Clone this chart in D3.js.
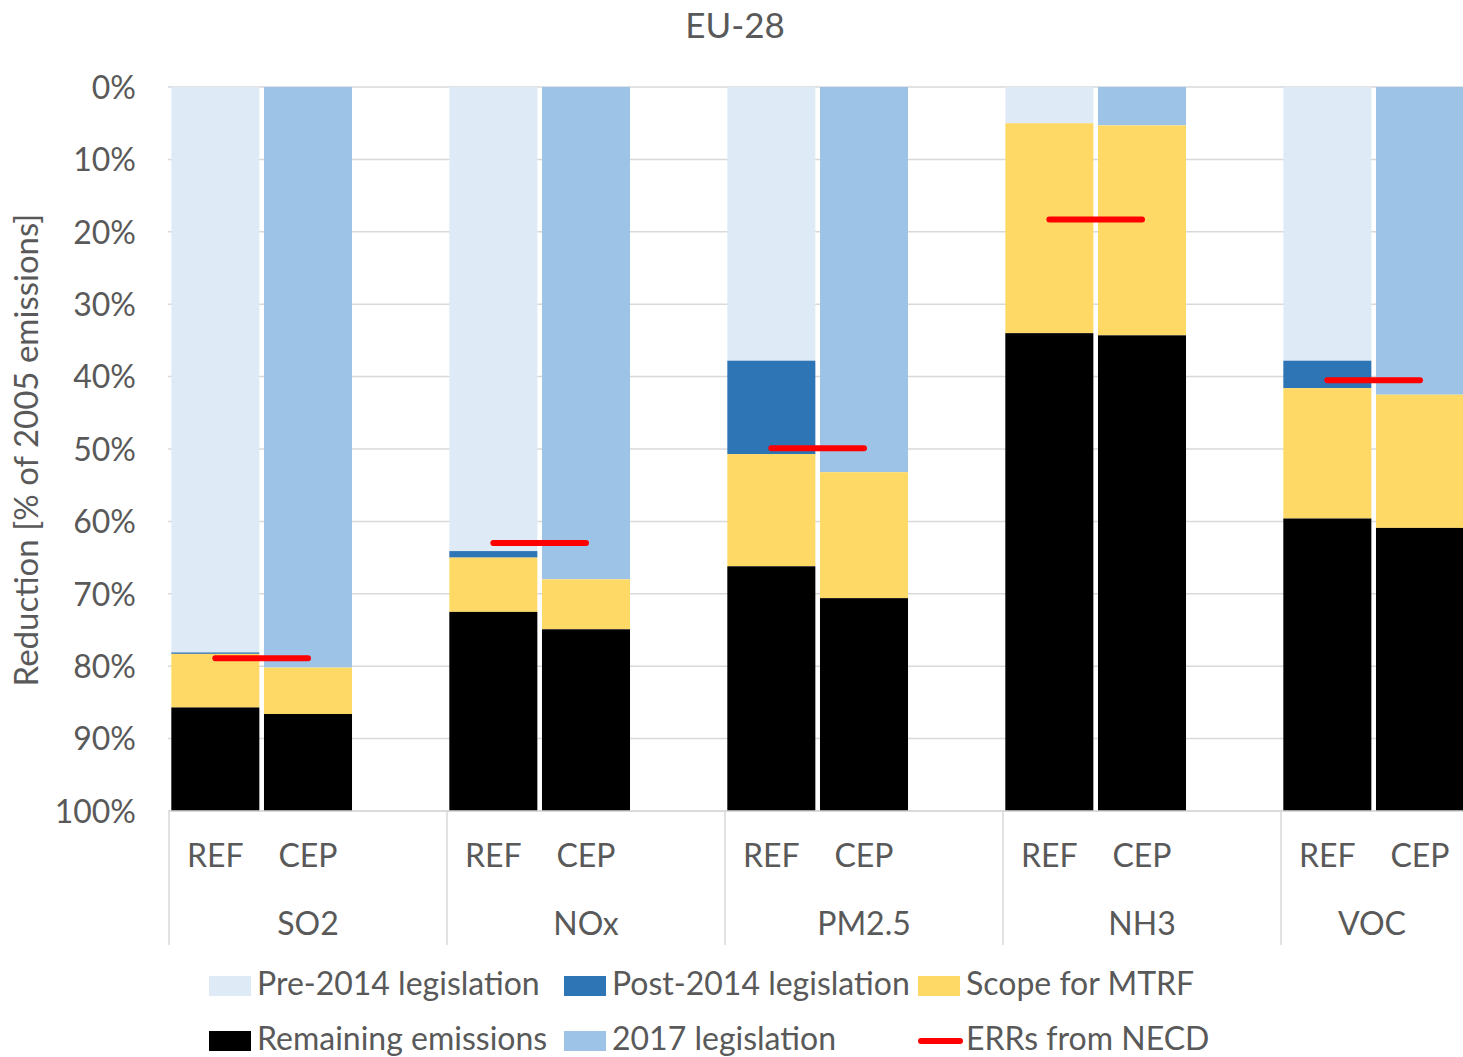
<!DOCTYPE html>
<html>
<head>
<meta charset="utf-8">
<script src="https://cdn.jsdelivr.net/npm/d3@7/dist/d3.min.js"></script>
<style>
  html, body { margin: 0; padding: 0; background: #fff; overflow: hidden; }
  svg { display: block; font-family: Lato, "Open Sans", sans-serif; }
</style>
</head>
<body>
<svg id="chart" width="1463" height="1057"></svg>
<script>
// ---- Data ----
const pollutants = ["SO2", "NOx", "PM2.5", "NH3", "VOC"];
const scenarios = ["REF", "CEP"];
// REF bars (segments, % of 2005 emissions, stacked from the top)
const pre2014Ref   = [78.1, 64.1, 37.8, 5.0, 37.8];
const post2014Ref  = [0.2, 0.9, 12.9, 0.0, 3.8];
const scopeRef     = [7.4, 7.5, 15.5, 29.0, 18.0];
const remainingRef = [14.3, 27.5, 33.8, 66.0, 40.4];
// CEP bars
const leg2017Cep   = [80.2, 68.0, 53.2, 5.3, 42.5];
const scopeCep     = [6.4, 6.9, 17.4, 29.0, 18.4];
const remainingCep = [13.4, 25.1, 29.4, 65.7, 39.1];
// Emission reduction requirements from NECD
const errNecd      = [78.9, 63.0, 49.9, 18.3, 40.5];
const yTicks = [0, 10, 20, 30, 40, 50, 60, 70, 80, 90, 100];

const seriesKeys = ["pre2014", "post2014", "leg2017", "scope", "remaining"];
const seriesNames = {
  pre2014: "Pre-2014 legislation", post2014: "Post-2014 legislation",
  scope: "Scope for MTRF", remaining: "Remaining emissions", leg2017: "2017 legislation"
};
const colors = {
  pre2014: "#DEEBF7", post2014: "#2E75B6", leg2017: "#9DC3E6",
  scope: "#FFD966", remaining: "#000000"
};

// rows: one per bar
const rows = [];
pollutants.forEach((p, i) => {
  rows.push({ slot: p + "|REF", pollutant: p, scenario: "REF",
    pre2014: pre2014Ref[i], post2014: post2014Ref[i], leg2017: 0,
    scope: scopeRef[i], remaining: remainingRef[i] });
  rows.push({ slot: p + "|CEP", pollutant: p, scenario: "CEP",
    pre2014: 0, post2014: 0, leg2017: leg2017Cep[i],
    scope: scopeCep[i], remaining: remainingCep[i] });
});

// ---- Layout ----
const svg = d3.select("#chart");
const plotLeft = 169, groupW = 278;
const plotRight = plotLeft + groupW * pollutants.length;
const plotTop = 87, plotBottom = 811;
const visibleRight = 1463;
const textColor = "#595959";
const gridColor = "#D9D9D9";
const fs = 32;

// 3 slots per group: REF, CEP, empty
const slots = [];
pollutants.forEach(p => { slots.push(p + "|REF", p + "|CEP", p + "|gap"); });
const x = d3.scaleBand().domain(slots).range([plotLeft, plotRight]).paddingInner(0.05).paddingOuter(0.025);
const xGroup = d3.scaleBand().domain(pollutants).range([plotLeft, plotRight]);
const y = d3.scaleLinear().domain([0, 100]).range([plotTop, plotBottom]);

// Title
svg.append("text").attr("x", 735).attr("y", 29).attr("text-anchor", "middle")
  .attr("dominant-baseline", "middle").attr("font-size", 35).attr("fill", textColor).text("EU-28");

// Gridlines
svg.append("g").selectAll("line").data(yTicks).join("line")
  .attr("x1", plotLeft - 1).attr("x2", plotRight)
  .attr("y1", d => y(d)).attr("y2", d => y(d))
  .attr("stroke", gridColor).attr("stroke-width", 1.5);

// Y axis tick labels
const yAxis = d3.axisLeft(y).tickValues(yTicks).tickFormat(d => d + "%").tickSize(0).tickPadding(0);
const yg = svg.append("g").attr("transform", `translate(${plotLeft - 33},0)`).call(yAxis);
yg.select(".domain").remove();
yg.selectAll("text").attr("font-size", fs).attr("fill", textColor)
  .attr("font-family", "Lato, sans-serif").attr("dy", "0.35em");

// Y axis title
svg.append("text").attr("transform", "translate(30,450) rotate(-90)")
  .attr("text-anchor", "middle").attr("dominant-baseline", "middle")
  .attr("font-size", 33).attr("fill", textColor).text("Reduction [% of 2005 emissions]");

// Stacked bars
const stacked = d3.stack().keys(seriesKeys)(rows);
svg.append("g").selectAll("g").data(stacked).join("g")
  .attr("fill", d => colors[d.key])
  .selectAll("rect").data(d => d.filter(s => s[1] - s[0] > 0)).join("rect")
  .attr("x", d => x(d.data.slot))
  .attr("width", x.bandwidth())
  .attr("y", d => y(d[0]))
  .attr("height", d => y(d[1]) - y(d[0]));

// ERR lines
svg.append("g").selectAll("line").data(pollutants).join("line")
  .attr("x1", (p) => x(p + "|REF") + x.bandwidth() / 2)
  .attr("x2", (p) => x(p + "|CEP") + x.bandwidth() / 2)
  .attr("y1", (p, i) => y(errNecd[i])).attr("y2", (p, i) => y(errNecd[i]))
  .attr("stroke", "#FF0000").attr("stroke-width", 6).attr("stroke-linecap", "round");

// X axis line + group separators
svg.append("line").attr("x1", plotLeft).attr("x2", plotRight)
  .attr("y1", plotBottom).attr("y2", plotBottom).attr("stroke", gridColor).attr("stroke-width", 1.5);
svg.append("g").selectAll("line").data(pollutants).join("line")
  .attr("x1", p => xGroup(p)).attr("x2", p => xGroup(p))
  .attr("y1", plotBottom).attr("y2", 945).attr("stroke", gridColor).attr("stroke-width", 1.5);

// Scenario labels
svg.append("g").selectAll("text").data(rows).join("text")
  .attr("x", d => x(d.slot) + x.bandwidth() / 2).attr("y", 859)
  .attr("text-anchor", "middle").attr("dominant-baseline", "middle")
  .attr("font-size", fs).attr("fill", textColor).text(d => d.scenario);

// Group labels (centered on visible portion)
svg.append("g").selectAll("text").data(pollutants).join("text")
  .attr("x", p => {
    const a = xGroup(p), b = Math.min(xGroup(p) + xGroup.bandwidth(), visibleRight);
    return (a + b) / 2;
  })
  .attr("y", 927).attr("text-anchor", "middle").attr("dominant-baseline", "middle")
  .attr("font-size", fs).attr("fill", textColor).text(p => p);

// Legend
const legendItems = [
  { key: "pre2014", col: 0, row: 0 }, { key: "post2014", col: 1, row: 0 }, { key: "scope", col: 2, row: 0 },
  { key: "remaining", col: 0, row: 1 }, { key: "leg2017", col: 1, row: 1 }, { key: "err", col: 2, row: 1 }
];
const legendX = [209, 564, 918], legendY = [987, 1042];
const lg = svg.append("g");
legendItems.forEach(it => {
  const gx = legendX[it.col], gy = legendY[it.row];
  if (it.key === "err") {
    lg.append("line").attr("x1", gx + 3).attr("x2", gx + 42).attr("y1", gy - 1).attr("y2", gy - 1)
      .attr("stroke", "#FF0000").attr("stroke-width", 6).attr("stroke-linecap", "round");
  } else {
    lg.append("rect").attr("x", gx).attr("y", gy - 11).attr("width", 42).attr("height", 20)
      .attr("fill", colors[it.key]);
  }
  lg.append("text").attr("x", gx + 48).attr("y", gy).attr("dominant-baseline", "middle")
    .attr("font-size", fs).attr("fill", textColor)
    .text(it.key === "err" ? "ERRs from NECD" : seriesNames[it.key]);
});
</script>
</body>
</html>
